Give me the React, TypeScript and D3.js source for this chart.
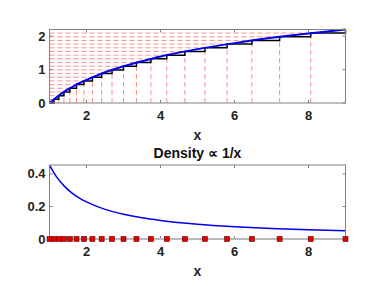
import React, { useEffect, useRef } from 'react';
import * as d3 from 'd3';

// sample points (x) and their uniform levels on the log scale
const sampleX = [1, 1.12, 1.25, 1.39, 1.55, 1.73, 1.93, 2.16, 2.41, 2.69, 3.0, 3.35, 3.74, 4.17, 4.66, 5.2, 5.8, 6.47, 7.22, 8.06, 9];
const levels = [0, 0.11, 0.22, 0.33, 0.44, 0.55, 0.66, 0.77, 0.88, 0.99, 1.1, 1.21, 1.32, 1.43, 1.54, 1.65, 1.76, 1.87, 1.98, 2.09, 2.197];

// blue curves
const curveX = [1, 1.2, 1.4, 1.6, 1.8, 2, 2.5, 3, 3.5, 4, 5, 6, 7, 8, 9];
const cdfY = [0, 0.18, 0.34, 0.47, 0.59, 0.69, 0.92, 1.1, 1.25, 1.39, 1.61, 1.79, 1.95, 2.08, 2.197];
const densityY = [0.455, 0.379, 0.325, 0.284, 0.253, 0.228, 0.182, 0.152, 0.13, 0.114, 0.091, 0.076, 0.065, 0.057, 0.051];

const xTicks = [2, 4, 6, 8];
const topYTicks = [0, 1, 2];
const bottomYTicks = [0, 0.2, 0.4];

const FONT = '"Liberation Sans", Arial, sans-serif';

function App() {
  const ref = useRef<SVGSVGElement | null>(null);

  useEffect(() => {
    if (!ref.current) return;
    const svg = d3.select(ref.current);
    svg.selectAll('*').remove();

    const left = 49.5, right = 345.5;
    const x = d3.scaleLinear().domain([1, 9]).range([left, right]);

    const drawFrame = (g: any, y: any, top: number, bottom: number, yTicks: number[], fmt: (d: number) => string) => {
      const axisColor = '#808080';
      g.append('rect')
        .attr('x', left).attr('y', top)
        .attr('width', right - left).attr('height', bottom - top)
        .attr('fill', 'none').attr('stroke', axisColor).attr('stroke-width', 1);
      xTicks.forEach(t => {
        g.append('line').attr('x1', x(t)).attr('x2', x(t)).attr('y1', bottom).attr('y2', bottom - 3).attr('stroke', axisColor);
        g.append('line').attr('x1', x(t)).attr('x2', x(t)).attr('y1', top).attr('y2', top + 3).attr('stroke', axisColor);
        g.append('text').attr('x', x(t)).attr('y', bottom + 17)
          .attr('text-anchor', 'middle').attr('font-family', FONT).attr('font-weight', 'bold')
          .attr('font-size', 13).attr('fill', '#222').text(t);
      });
      yTicks.forEach(t => {
        g.append('line').attr('x1', left).attr('x2', left + 3).attr('y1', y(t)).attr('y2', y(t)).attr('stroke', axisColor);
        g.append('line').attr('x1', right).attr('x2', right - 3).attr('y1', y(t)).attr('y2', y(t)).attr('stroke', axisColor);
        g.append('text').attr('x', left - 4).attr('y', y(t) + 4.5)
          .attr('text-anchor', 'end').attr('font-family', FONT).attr('font-weight', 'bold')
          .attr('font-size', 13).attr('fill', '#222').text(fmt(t));
      });
      g.append('text').attr('x', (left + right) / 2).attr('y', bottom + 37)
        .attr('text-anchor', 'middle').attr('font-family', FONT).attr('font-weight', 'bold')
        .attr('font-size', 14).attr('fill', '#222').text('x');
    };

    // ---- top panel ----
    const top1 = 29.5, bot1 = 103;
    const y1 = d3.scaleLinear().domain([0, 2.197]).range([bot1, top1]);
    const g1 = svg.append('g');
    const dashColor = 'rgba(255,0,0,0.45)';

    sampleX.forEach((sx, i) => {
      g1.append('line').attr('x1', x(1)).attr('x2', x(sx)).attr('y1', y1(levels[i])).attr('y2', y1(levels[i]))
        .attr('stroke', dashColor).attr('stroke-width', 1).attr('stroke-dasharray', '5,3');
      g1.append('line').attr('x1', x(sx)).attr('x2', x(sx)).attr('y1', y1(0)).attr('y2', y1(levels[i]))
        .attr('stroke', dashColor).attr('stroke-width', 1).attr('stroke-dasharray', '5,3');
    });

    const stairs = d3.line<number>()
      .x((d, i) => x(sampleX[i]))
      .y(d => y1(d))
      .curve(d3.curveStepAfter);
    g1.append('path').datum(levels).attr('d', stairs).attr('fill', 'none')
      .attr('stroke', '#000').attr('stroke-width', 1.5);

    const cdfLine = d3.line<number>()
      .x((d, i) => x(curveX[i]))
      .y(d => y1(d))
      .curve(d3.curveMonotoneX);
    g1.append('path').datum(cdfY).attr('d', cdfLine).attr('fill', 'none')
      .attr('stroke', '#0000ee').attr('stroke-width', 2);

    drawFrame(g1, y1, top1, bot1, topYTicks, d => String(d));

    // ---- bottom panel ----
    const top2 = 165, bot2 = 239;
    const y2 = d3.scaleLinear().domain([0, 0.455]).range([bot2, top2]);
    const g2 = svg.append('g');

    const densLine = d3.line<number>()
      .x((d, i) => x(curveX[i]))
      .y(d => y2(d))
      .curve(d3.curveMonotoneX);
    g2.append('path').datum(densityY).attr('d', densLine).attr('fill', 'none')
      .attr('stroke', '#0000ee').attr('stroke-width', 1.5);

    drawFrame(g2, y2, top2, bot2, bottomYTicks, d => (d === 0 ? '0' : String(d)));

    g2.append('line').attr('x1', left).attr('x2', right).attr('y1', bot2).attr('y2', bot2)
      .attr('stroke', '#bbb').attr('stroke-width', 2);

    g2.selectAll('rect.pt').data(sampleX).enter().append('rect')
      .attr('class', 'pt')
      .attr('x', d => x(d) - 2.5).attr('y', y2(0) - 2.5)
      .attr('width', 5).attr('height', 5)
      .attr('fill', '#e00000').attr('stroke', '#600').attr('stroke-width', 0.6);

    svg.append('text').attr('x', (left + right) / 2).attr('y', 157.5)
      .attr('text-anchor', 'middle').attr('font-family', FONT).attr('font-weight', 'bold')
      .attr('font-size', 14).attr('fill', '#111').text('Density \u221D 1/x');
  }, []);

  return (
    <svg ref={ref} width={382} height={286}
      style={{ position: 'absolute', left: 0, top: 0, background: '#fff' }} />
  );
}

export default App;
